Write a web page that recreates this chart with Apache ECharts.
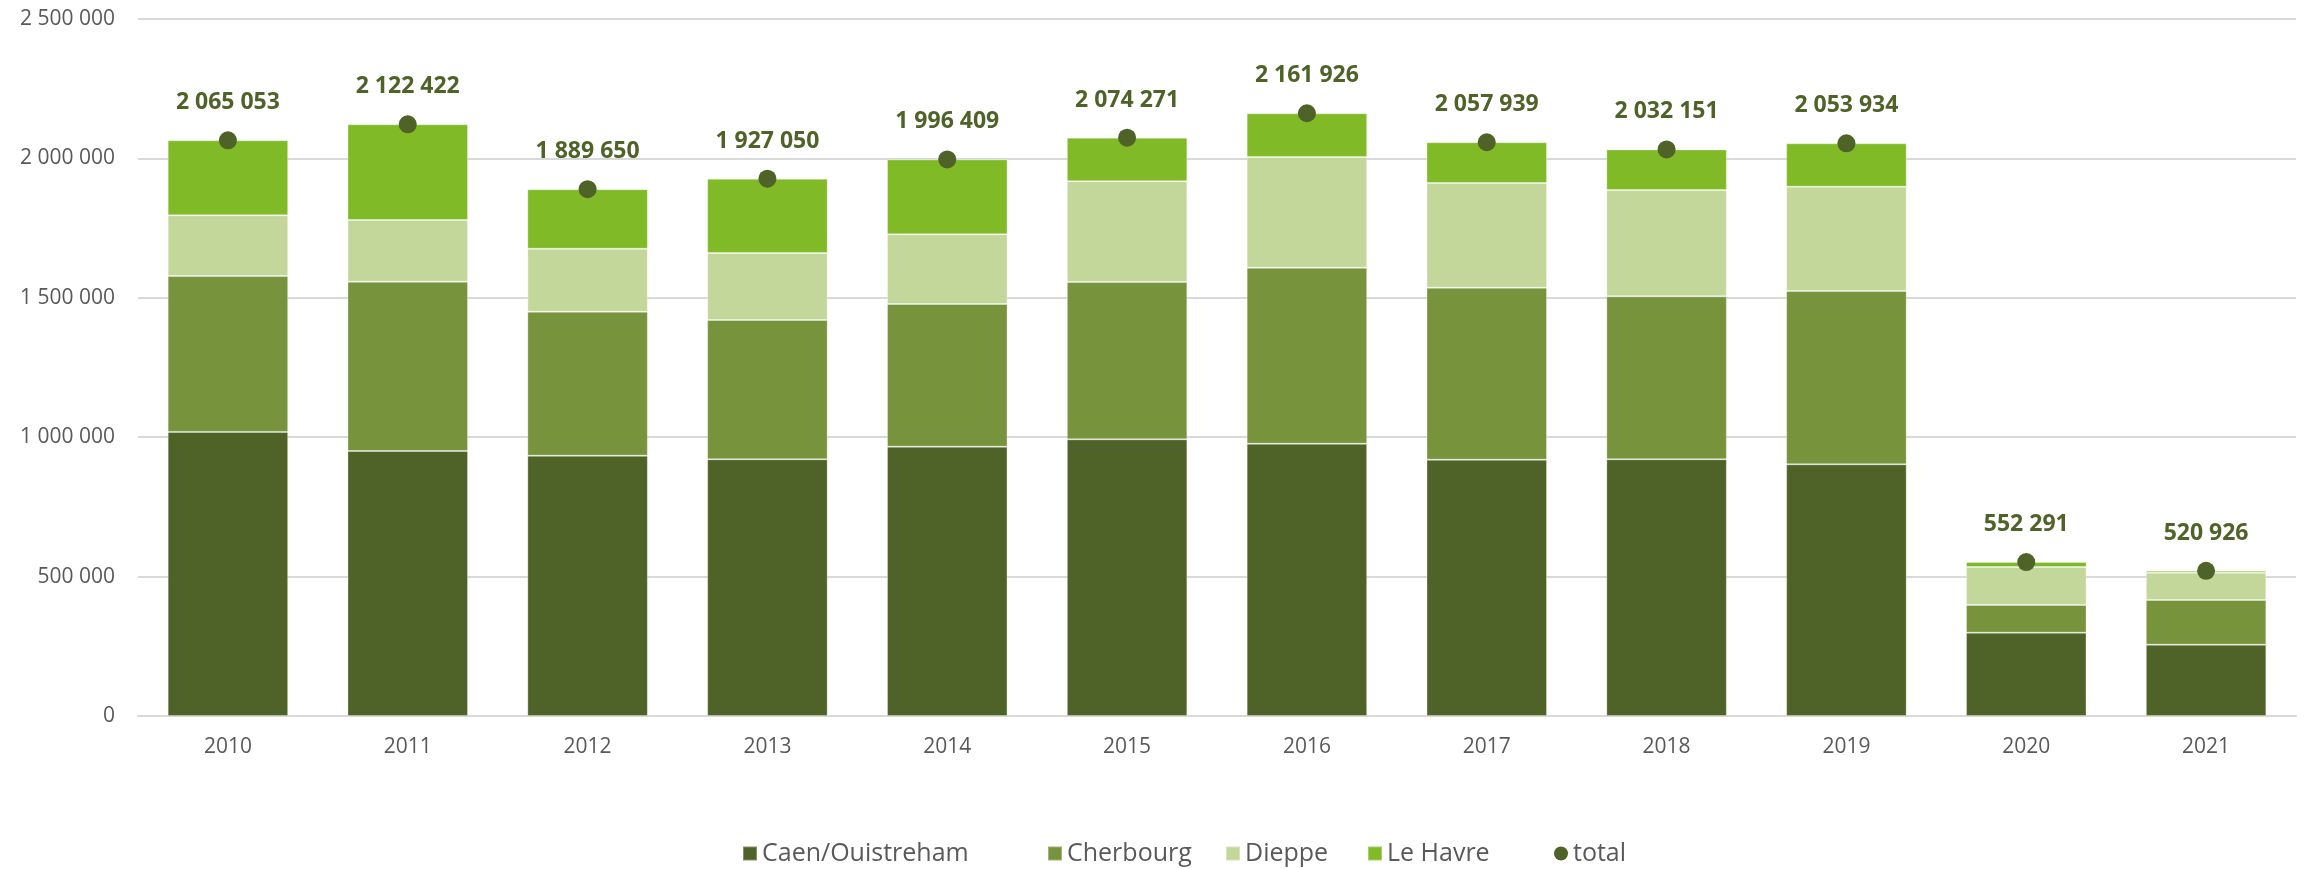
<!DOCTYPE html>
<html>
<head>
<meta charset="utf-8">
<script src="https://cdn.jsdelivr.net/npm/echarts@6/dist/echarts.min.js"></script>
<style>
  html, body { margin: 0; padding: 0; background: #fff; }
  #chart { width: 2305px; height: 869px; }
</style>
</head>
<body>
<div id="chart"></div>
<script>
// années
var years = ['2010', '2011', '2012', '2013', '2014', '2015', '2016', '2017', '2018', '2019', '2020', '2021'];

// passagers par port
var caen      = [1019000, 950500, 933800, 920800, 966000, 992400, 976700, 919300, 920800, 902800, 298900, 255800];
var cherbourg = [559000, 607300, 516200, 499600, 511800, 564300, 631300, 617000, 584600, 621700, 99300, 160300];
var dieppe    = [218000, 221200, 226000, 240400, 249900, 361200, 397100, 375600, 381400, 374100, 136300, 98000];
var leHavre   = [269053, 343422, 213650, 266250, 268709, 156371, 156826, 146039, 145351, 155334, 17791, 6826];
var total     = [2065053, 2122422, 1889650, 1927050, 1996409, 2074271, 2161926, 2057939, 2032151, 2053934, 552291, 520926];

var yTicks = [0, 500000, 1000000, 1500000, 2000000, 2500000];

function fmt(v) {
    // séparateur de milliers : espace
    return String(Math.round(v)).replace(/\B(?=(\d{3})+(?!\d))/g, ' ');
}

var FONT = '"Open Sans", "Noto Sans", sans-serif';
var barBorder = { borderColor: 'rgba(255,255,255,0.3)', borderWidth: 1 };

function barSerie(name, data, color) {
    return {
        name: name,
        type: 'bar',
        stack: 'ports',
        barWidth: '67%',
        data: data,
        itemStyle: Object.assign({ color: color }, barBorder),
        emphasis: { disabled: true }
    };
}

// une légende par entrée, pour caler chaque item comme dans l'original
function legendItem(name, icon, left) {
    return {
        bottom: -2,
        left: left,
        itemWidth: 14,
        itemHeight: 14,
        textStyle: { fontSize: 25, color: '#595959', fontFamily: FONT },
        data: [{ name: name, icon: icon }]
    };
}

var myChart = echarts.init(document.getElementById('chart'));
var option = {
    animation: false,
    textStyle: { fontFamily: FONT },
    grid: { left: 138, right: 9, top: 19, bottom: 153, containLabel: false },
    legend: [
        legendItem('Caen/Ouistreham', 'rect', 737),
        legendItem('Cherbourg', 'rect', 1042),
        legendItem('Dieppe', 'rect', 1220),
        legendItem('Le Havre', 'rect', 1362),
        legendItem('total', 'circle', 1549)
    ],
    xAxis: {
        type: 'category',
        data: years,
        axisTick: { show: false },
        axisLine: { lineStyle: { color: '#D9D9D9', width: 2 } },
        axisLabel: { fontSize: 21, color: '#595959', margin: 21 }
    },
    yAxis: {
        type: 'value',
        min: yTicks[0],
        max: yTicks[yTicks.length - 1],
        interval: 500000,
        axisLine: { show: false },
        axisTick: { show: false },
        splitLine: { lineStyle: { color: '#D9D9D9', width: 2 } },
        axisLabel: { fontSize: 21, color: '#595959', margin: 23, formatter: fmt }
    },
    series: [
        barSerie('Caen/Ouistreham', caen, '#4F6228'),
        barSerie('Cherbourg', cherbourg, '#77933C'),
        barSerie('Dieppe', dieppe, '#C4D79B'),
        barSerie('Le Havre', leHavre, '#80BA27'),
        {
            name: 'total',
            type: 'scatter',
            data: total,
            symbol: 'circle',
            symbolSize: 18,
            itemStyle: { color: '#4F6228', opacity: 1 },
            label: {
                show: true,
                position: 'top',
                distance: 17,
                fontSize: 23,
                fontWeight: 'bold',
                color: '#4F6228',
                opacity: 1,
                formatter: function (p) { return fmt(p.value); }
            },
            emphasis: { disabled: true },
            z: 5
        }
    ]
};
myChart.setOption(option);
</script>
</body>
</html>
